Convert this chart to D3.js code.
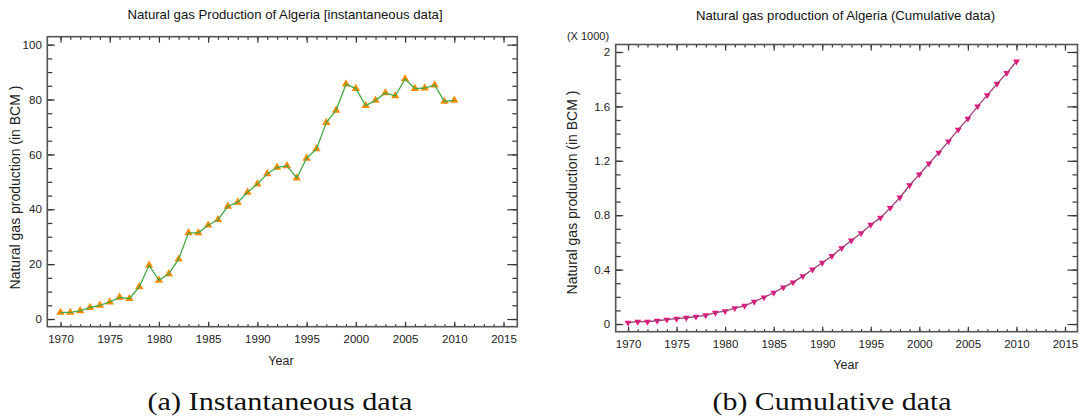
<!DOCTYPE html>
<html>
<head>
<meta charset="utf-8">
<script src="https://cdn.jsdelivr.net/npm/d3@7/dist/d3.min.js"></script>
<style>
    body { margin: 0; background: #fff; }
    svg { display: block; font-family: "Liberation Sans", Arial, sans-serif; }
    .caption { font-family: "Liberation Serif", "Times New Roman", serif; }
</style>
</head>
<body>
<svg id="figure" width="1079" height="419"></svg>
<script>
// Data
const years = [1970, 1971, 1972, 1973, 1974, 1975, 1976, 1977, 1978, 1979,
               1980, 1981, 1982, 1983, 1984, 1985, 1986, 1987, 1988, 1989,
               1990, 1991, 1992, 1993, 1994, 1995, 1996, 1997, 1998, 1999,
               2000, 2001, 2002, 2003, 2004, 2005, 2006, 2007, 2008, 2009, 2010];

// instantaneous production, BCM
const instantaneous = [2.4, 2.4, 3.0, 4.2, 5.0, 6.2, 7.9, 7.4, 11.7, 19.6,
                       14.1, 16.5, 21.8, 31.4, 31.4, 34.2, 36.2, 41.1, 42.5, 46.2,
                       49.2, 52.9, 55.3, 55.8, 51.4, 58.6, 62.0, 71.6, 76.1, 85.6,
                       84.0, 77.8, 79.7, 82.4, 81.3, 87.5, 84.0, 84.2, 85.3, 79.3, 79.7];

// cumulative production, BCM (axis shown x 1000)
const cumulative = [10, 17, 17, 24, 32, 39, 46, 54, 64, 83,
                    95, 117, 134, 164, 196, 230, 269, 306, 352, 401,
                    450, 500, 558, 614, 668, 730, 782, 854, 930, 1020,
                    1100, 1180, 1260, 1343, 1429, 1510, 1600, 1683, 1766, 1845, 1930];

const yearTicks = [1970, 1975, 1980, 1985, 1990, 1995, 2000, 2005, 2010, 2015];
const instTicks = [0, 20, 40, 60, 80, 100];
const cumTicks = [0, 400, 800, 1200, 1600, 2000];

const minorYears = d3.range(1970, 2016, 1);
const instMinor = d3.range(0, 101, 5);
const cumMinor = d3.range(0, 2001, 100);

const svg = d3.select("#figure");

function drawPanel(config) {
    const { frame, xDomain, yDomain, yTicks, yMinor, yFormat, values,
            lineColor, markerColor, markerRotate, markerSize } = config;

    const g = svg.append("g");

    const x = d3.scaleLinear().domain(xDomain).range([frame.left, frame.right]);
    const y = d3.scaleLinear().domain(yDomain).range([frame.bottom, frame.top]);

    // ticks, all pointing into the plot
    function styleAxis(sel) {
        sel.select(".domain").remove();
        sel.selectAll(".tick line").attr("stroke", "#333").attr("stroke-width", 1.2);
        sel.selectAll(".tick text").attr("fill", "#1a1a1a").style("font-size", "11.5px");
    }

    g.append("g")
        .attr("transform", `translate(0,${frame.bottom})`)
        .call(d3.axisBottom(x).tickValues(minorYears).tickSize(-2.5).tickFormat(""))
        .call(styleAxis);
    g.append("g")
        .attr("transform", `translate(0,${frame.bottom})`)
        .call(d3.axisBottom(x).tickValues(yearTicks).tickSize(-5).tickPadding(8).tickFormat(d3.format("d")))
        .call(styleAxis);
    g.append("g")
        .attr("transform", `translate(0,${frame.top})`)
        .call(d3.axisTop(x).tickValues(minorYears).tickSize(-3).tickFormat(""))
        .call(styleAxis);
    g.append("g")
        .attr("transform", `translate(0,${frame.top})`)
        .call(d3.axisTop(x).tickValues(yearTicks).tickSize(-6).tickFormat(""))
        .call(styleAxis);

    g.append("g")
        .attr("transform", `translate(${frame.left},0)`)
        .call(d3.axisLeft(y).tickValues(yMinor).tickSize(-5).tickFormat(""))
        .call(styleAxis);
    g.append("g")
        .attr("transform", `translate(${frame.left},0)`)
        .call(d3.axisLeft(y).tickValues(yTicks).tickSize(-7.5).tickPadding(5.5).tickFormat(yFormat))
        .call(styleAxis);
    g.append("g")
        .attr("transform", `translate(${frame.right},0)`)
        .call(d3.axisRight(y).tickValues(yMinor).tickSize(-5).tickFormat(""))
        .call(styleAxis);
    g.append("g")
        .attr("transform", `translate(${frame.right},0)`)
        .call(d3.axisRight(y).tickValues(yTicks).tickSize(-10).tickFormat(""))
        .call(styleAxis);

    // plot frame
    g.append("rect")
        .attr("x", frame.left)
        .attr("y", frame.top)
        .attr("width", frame.right - frame.left)
        .attr("height", frame.bottom - frame.top)
        .attr("fill", "none")
        .attr("stroke", "#555")
        .attr("stroke-width", 1.6);

    // markers
    const symbol = d3.symbol().type(d3.symbolTriangle).size(markerSize);
    g.selectAll(".marker")
        .data(years)
        .enter()
        .append("path")
        .attr("class", "marker")
        .attr("d", symbol)
        .attr("transform", (d, i) => `translate(${x(d)},${y(values[i])}) rotate(${markerRotate})`)
        .attr("fill", markerColor);

    // line on top of the markers
    const line = d3.line()
        .x((d, i) => x(years[i]))
        .y(d => y(d));

    g.append("path")
        .attr("d", line(values))
        .attr("fill", "none")
        .attr("stroke", lineColor)
        .attr("stroke-width", 1.3);

    return g;
}

// (a) instantaneous
const left = drawPanel({
    frame: { left: 47.3, right: 517.3, top: 36.7, bottom: 326.7 },
    xDomain: [1968.66, 2016.4],
    yDomain: [-2.8, 102.9],
    yTicks: instTicks,
    yMinor: instMinor,
    yFormat: d3.format("d"),
    values: instantaneous,
    lineColor: "#45a845",
    markerColor: "#ff8a00",
    markerRotate: 0,
    markerSize: 30
});

// (b) cumulative
const right = drawPanel({
    frame: { left: 615.7, right: 1077.5, top: 44.5, bottom: 331.7 },
    xDomain: [1968.73, 2016.29],
    yDomain: [-56.5, 2055],
    yTicks: cumTicks,
    yMinor: cumMinor,
    yFormat: d => String(+(d / 1000).toFixed(1)),
    values: cumulative,
    lineColor: "#a03c78",
    markerColor: "#f5107f",
    markerRotate: 180,
    markerSize: 20
});

// titles and axis labels
left.append("text")
    .attr("x", 285).attr("y", 19)
    .attr("text-anchor", "middle")
    .style("font-size", "13.2px").attr("fill", "#111")
    .text("Natural gas Production of Algeria [instantaneous data]");

right.append("text")
    .attr("x", 845.5).attr("y", 20)
    .attr("text-anchor", "middle")
    .style("font-size", "13.2px").attr("fill", "#111")
    .text("Natural gas production of Algeria (Cumulative data)");

right.append("text")
    .attr("x", 588).attr("y", 40)
    .attr("text-anchor", "middle")
    .style("font-size", "11px").attr("fill", "#222")
    .text("(X 1000)");

left.append("text")
    .attr("transform", "translate(20,187.5) rotate(-90)")
    .attr("text-anchor", "middle")
    .style("font-size", "14px").attr("fill", "#222")
    .text("Natural gas production (in BCM )");

right.append("text")
    .attr("transform", "translate(577,192.5) rotate(-90)")
    .attr("text-anchor", "middle")
    .style("font-size", "14px").attr("fill", "#222")
    .text("Natural gas production (in BCM )");

left.append("text")
    .attr("x", 281).attr("y", 365)
    .attr("text-anchor", "middle")
    .style("font-size", "12.5px").attr("fill", "#222")
    .text("Year");

right.append("text")
    .attr("x", 846).attr("y", 369)
    .attr("text-anchor", "middle")
    .style("font-size", "12.5px").attr("fill", "#222")
    .text("Year");

// sub-figure captions
svg.append("text")
    .attr("class", "caption")
    .attr("x", 280).attr("y", 410)
    .attr("text-anchor", "middle")
    .attr("textLength", 265).attr("lengthAdjust", "spacingAndGlyphs")
    .style("font-size", "25px").attr("fill", "#111")
    .text("(a) Instantaneous data");

svg.append("text")
    .attr("class", "caption")
    .attr("x", 832).attr("y", 410)
    .attr("text-anchor", "middle")
    .attr("textLength", 239).attr("lengthAdjust", "spacingAndGlyphs")
    .style("font-size", "25px").attr("fill", "#111")
    .text("(b) Cumulative data");
</script>
</body>
</html>
